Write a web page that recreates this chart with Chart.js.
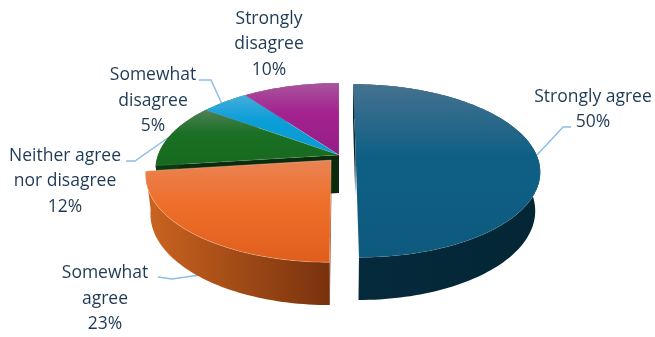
<!DOCTYPE html>
<html>
<head>
<meta charset="utf-8">
<title>Agreement survey</title>
<style>
	html, body { margin: 0; padding: 0; background: #fff; }
	canvas { display: block; }
</style>
<script src="https://cdn.jsdelivr.net/npm/chart.js@4"></script>
</head>
<body>
<canvas id="pie" width="655" height="337"></canvas>
<script>
// Answers and their share of responses
const categories = [
	["Strongly agree"],
	["Somewhat", "agree"],
	["Neither agree", "nor disagree"],
	["Somewhat", "disagree"],
	["Strongly", "disagree"],
];
const shares = [50, 23, 12, 5, 10];

// Fill colours: highlight, middle, bottom of the top face
const faceColors = [
	["#44728f", "#0f5f85", "#0e5a7e"],
	["#ea8354", "#ee6f2a", "#e05e1c"],
	["#4f8055", "#1a7024", "#166a1f"],
	["#45acdc", "#0a9fd8", "#0a9ad2"],
	["#a8549c", "#a3228f", "#951e86"],
];
// Outer wall: left and right end, plus the cut side of a slice
const wallColors = [
	["#052a3c", "#042634"],
	["#cc6420", "#78320d"],
	["#0b3a10", "#0b3a10"],
	["#06597c", "#06597c"],
	["#5c1454", "#5c1454"],
];
const cutColors = ["#04202e", "#8a3a10", "#0a2c0c", "#06597c", "#5c1454"];
// Pale edge round each top face, strongest on the orange slice
const rimAlpha = [0.08, 0.3, 0.12, 0.12, 0.12];

// How far a slice is pulled out, in units of the radius
const sliceShift = [
	[0.092, 0.02],
	[-0.043, 0.06],
	[0, 0],
	[0, 0],
	[0, 0],
];

// Camera used to flatten the pie on to the page
const view = {
	cx: 339,
	cy: 155,
	radiusX: 181,
	radiusY: 83.7,
	lean: 0.163,
	depth: 38,
	floorX: 0.975,
	floorY: 1.045,
};

// Label placement: centre x and the y of the first line
const labelSpots = [
	[593, 97],
	[105, 273.5],
	[65, 156],
	[153, 75.5],
	[269, 19],
];
const lineGap = 25.3;

const leaders = [
	[[537, 155], [563, 127], [571, 127]],
	[[158, 277], [172, 279], [200, 275]],
	[[126, 161], [135, 161], [172, 135]],
	[[199, 80], [211, 80], [222, 104]],
];

function project(u, v, floor) {
	const f = 1 / (1 - view.lean * v);
	const x = view.radiusX * u * f;
	const y = view.radiusY * v * f;
	if (floor) {
		return [view.cx + x * view.floorX, view.cy + view.depth + y * view.floorY];
	}
	return [view.cx + x, view.cy + y];
}

function arcPoints(start, end, shift, floor) {
	const pts = [];
	const steps = Math.max(8, Math.ceil((end - start) * 40));
	for (let i = 0; i <= steps; i++) {
		const a = start + ((end - start) * i) / steps;
		pts.push(project(Math.cos(a) + shift[0], Math.sin(a) + shift[1], floor));
	}
	return pts;
}

function tracePath(ctx, pts) {
	ctx.beginPath();
	pts.forEach((p, i) => (i ? ctx.lineTo(p[0], p[1]) : ctx.moveTo(p[0], p[1])));
	ctx.closePath();
}

function bounds(pts) {
	const xs = pts.map((p) => p[0]);
	const ys = pts.map((p) => p[1]);
	return [Math.min(...xs), Math.min(...ys), Math.max(...xs), Math.max(...ys)];
}

function drawSlice(ctx, arc, i, count) {
	const shift = sliceShift[i];
	const start = arc.startAngle;
	const end = arc.endAngle;
	const rim = arcPoints(start, end, shift, false);
	const floorRim = arcPoints(start, end, shift, true);
	const apex = project(shift[0], shift[1], false);
	const floorApex = project(shift[0], shift[1], true);

	// Cut side, only seen where the neighbouring slice has been pulled away
	const prev = sliceShift[(i + count - 1) % count];
	if (prev[0] !== shift[0] || prev[1] !== shift[1]) {
		tracePath(ctx, [apex, rim[0], floorRim[0], floorApex]);
		ctx.fillStyle = cutColors[i];
		ctx.fill();
	}

	// Outer wall
	const wall = rim.concat(floorRim.slice().reverse());
	const wb = bounds(wall);
	const wallFill = ctx.createLinearGradient(wb[0], 0, wb[2], 0);
	wallFill.addColorStop(0, wallColors[i][0]);
	wallFill.addColorStop(1, wallColors[i][1]);
	tracePath(ctx, wall);
	ctx.fillStyle = wallFill;
	ctx.fill();

	// Top face
	const face = [apex].concat(rim);
	const fb = bounds(face);
	const faceFill = ctx.createLinearGradient(0, fb[1], 0, fb[3]);
	faceFill.addColorStop(0, faceColors[i][0]);
	faceFill.addColorStop(0.42, faceColors[i][1]);
	faceFill.addColorStop(1, faceColors[i][2]);
	tracePath(ctx, face);
	ctx.fillStyle = faceFill;
	ctx.fill();
	ctx.strokeStyle = "rgba(255,255,255," + rimAlpha[i] + ")";
	ctx.lineWidth = 0.8;
	ctx.stroke();
}

const pie3d = {
	id: "pie3d",
	beforeDatasetDraw(chart, args) {
		const ctx = chart.ctx;
		const arcs = chart.getDatasetMeta(args.index).data;

		ctx.save();
		ctx.strokeStyle = "#8fbce8";
		ctx.lineWidth = 1.5;
		leaders.forEach((line) => {
			ctx.beginPath();
			line.forEach((p, i) => (i ? ctx.lineTo(p[0], p[1]) : ctx.moveTo(p[0], p[1])));
			ctx.stroke();
		});

		// Back slices first so the nearer ones sit on top
		arcs
			.map((arc, i) => ({ arc, i, depth: Math.sin((arc.startAngle + arc.endAngle) / 2) }))
			.sort((a, b) => a.depth - b.depth)
			.forEach((s) => drawSlice(ctx, s.arc, s.i, arcs.length));
		ctx.restore();

		// The plugin has drawn the slices, skip the flat ones
		return false;
	},
	afterDatasetsDraw(chart) {
		const ctx = chart.ctx;
		ctx.save();
		ctx.font = '17.5px "Open Sans"';
		ctx.fillStyle = "#1f3a56";
		ctx.textAlign = "center";
		ctx.textBaseline = "middle";
		categories.forEach((lines, i) => {
			const spot = labelSpots[i];
			const rows = lines.concat(shares[i] + "%");
			rows.forEach((row, r) => ctx.fillText(row, spot[0], spot[1] + r * lineGap));
		});
		ctx.restore();
	},
};

new Chart(document.getElementById("pie"), {
	type: "pie",
	data: {
		labels: categories,
		datasets: [
			{
				data: shares,
				backgroundColor: faceColors.map((c) => c[1]),
			},
		],
	},
	options: {
		responsive: false,
		animation: false,
		plugins: {
			legend: { display: false },
			tooltip: { enabled: false },
		},
	},
	plugins: [pie3d],
});
</script>
</body>
</html>
